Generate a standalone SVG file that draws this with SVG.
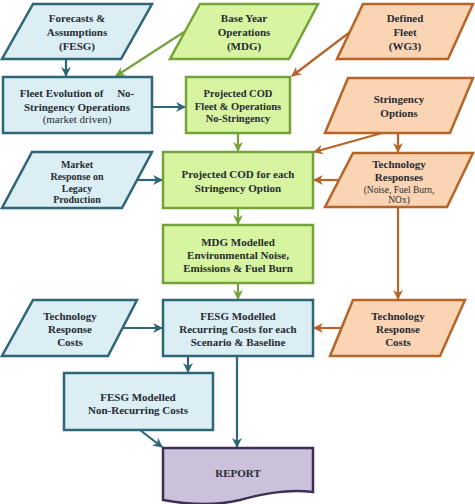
<svg xmlns="http://www.w3.org/2000/svg" width="475" height="504" viewBox="0 0 475 504">
<defs>
<style>
.b{fill:#dbeef4;stroke:#2e6577;stroke-width:2.5}
.g{fill:#d7f5a0;stroke:#76a23a;stroke-width:2.5}
.o{fill:#fbd4b3;stroke:#b5652a;stroke-width:2.5}
.p{fill:#ccc1db;stroke:#3f2f55;stroke-width:2.5}
text{font-family:'Liberation Serif','Times New Roman','DejaVu Serif',serif;font-size:11px;font-weight:bold;fill:#262b33;text-anchor:middle}
.n{font-weight:normal}
.s{font-size:9.5px}
.cb{stroke:#2e6577;stroke-width:2.2;fill:none}
.cg{stroke:#76a23a;stroke-width:2.2;fill:none}
.co{stroke:#b5652a;stroke-width:2.2;fill:none}
</style>
<marker id="ab" viewBox="0 0 10 10" refX="9" refY="5" markerWidth="4.5" markerHeight="4.5" orient="auto" markerUnits="strokeWidth"><path d="M0,0 L10,5 L0,10 L3,5 Z" fill="#2e6577"/></marker>
<marker id="ag" viewBox="0 0 10 10" refX="9" refY="5" markerWidth="4.5" markerHeight="4.5" orient="auto" markerUnits="strokeWidth"><path d="M0,0 L10,5 L0,10 L3,5 Z" fill="#76a23a"/></marker>
<marker id="ao" viewBox="0 0 10 10" refX="9" refY="5" markerWidth="4.5" markerHeight="4.5" orient="auto" markerUnits="strokeWidth"><path d="M0,0 L10,5 L0,10 L3,5 Z" fill="#b5652a"/></marker>
</defs>
<g id="connectors">
<line class="cb" x1="66" y1="59" x2="66" y2="76" marker-end="url(#ab)"/>
<line class="cg" x1="184" y1="32" x2="116" y2="76" marker-end="url(#ag)"/>
<line class="cb" x1="152" y1="107" x2="185" y2="107" marker-end="url(#ab)"/>
<line class="co" x1="350" y1="32" x2="292" y2="76" marker-end="url(#ao)"/>
<line class="cg" x1="238" y1="133" x2="238" y2="151" marker-end="url(#ag)"/>
<line class="co" x1="382" y1="133" x2="314" y2="152" marker-end="url(#ao)"/>
<line class="co" x1="398" y1="133" x2="398" y2="152" marker-end="url(#ao)"/>
<line class="cb" x1="137" y1="180" x2="162" y2="180" marker-end="url(#ab)"/>
<line class="co" x1="338" y1="180" x2="314" y2="180" marker-end="url(#ao)"/>
<line class="cg" x1="238" y1="208" x2="238" y2="224" marker-end="url(#ag)"/>
<line class="cg" x1="238" y1="283" x2="238" y2="299" marker-end="url(#ag)"/>
<line class="co" x1="398" y1="207" x2="398" y2="299" marker-end="url(#ao)"/>
<line class="cb" x1="123" y1="328" x2="162" y2="328" marker-end="url(#ab)"/>
<line class="co" x1="343" y1="328" x2="314" y2="328" marker-end="url(#ao)"/>
<line class="cb" x1="188" y1="356" x2="188" y2="372" marker-end="url(#ab)"/>
<line class="cb" x1="237" y1="356" x2="237" y2="447" marker-end="url(#ab)"/>
<line class="cb" x1="140" y1="430" x2="162" y2="447" marker-end="url(#ab)"/>
</g>
<g id="forecasts"><polygon class="b" points="33,4 152,4 121,59 2,59"/>
<text x="77" y="22">Forecasts &amp;</text><text x="77" y="36">Assumptions</text><text x="77" y="50">(FESG)</text></g>
<g id="baseyear"><polygon class="g" points="200,4 318,4 289,59 170,59"/>
<text x="244" y="22">Base Year</text><text x="244" y="36">Operations</text><text x="244" y="50">(MDG)</text></g>
<g id="definedfleet"><polygon class="o" points="363,4 473,4 448,59 337,59"/>
<text x="405" y="22">Defined</text><text x="405" y="36">Fleet</text><text x="405" y="50">(WG3)</text></g>
<g id="fleetevolution"><rect class="b" x="3" y="77" width="149" height="56"/>
<text x="77" y="97" xml:space="preserve">Fleet Evolution of     No-</text><text x="77" y="111">Stringency Operations</text><text class="n" x="77" y="123">(market driven)</text></g>
<g id="projectedfleet"><rect class="g" x="186" y="77" width="104" height="56"/>
<text x="238" y="97" style="font-size:10.5px">Projected COD</text><text x="238" y="110" style="font-size:10.5px">Fleet &amp; Operations</text><text x="238" y="122" style="font-size:10.5px">No-Stringency</text></g>
<g id="stringency"><polygon class="o" points="348,78 473,78 450,133 325,133"/>
<text x="399" y="103">Stringency</text><text x="399" y="117">Options</text></g>
<g id="marketresponse"><polygon class="b" points="32,152 152,152 122,208 2,208"/>
<text x="77" y="168" style="font-size:10px">Market</text><text x="77" y="180" style="font-size:10px">Response on</text><text x="77" y="192" style="font-size:10px">Legacy</text><text x="77" y="203" style="font-size:10px">Production</text></g>
<g id="projectedeach"><rect class="g" x="163" y="152" width="150" height="56"/>
<text x="238" y="178">Projected COD for each</text><text x="238" y="192">Stringency Option</text></g>
<g id="techresponses"><polygon class="o" points="353,153 473,153 447,207 325,207"/>
<text x="399" y="168">Technology</text><text x="399" y="181">Responses</text><text class="n s" x="399" y="193">(Noise, Fuel Burn,</text><text class="n s" x="399" y="203">NOx)</text></g>
<g id="mdgmodelled"><rect class="g" x="163" y="225" width="150" height="58"/>
<text x="238" y="246">MDG Modelled</text><text x="238" y="259">Environmental Noise,</text><text x="238" y="272">Emissions &amp; Fuel Burn</text></g>
<g id="techcostsleft"><polygon class="b" points="33,300 137,300 108,356 2,356"/>
<text x="70" y="320">Technology</text><text x="70" y="333">Response</text><text x="70" y="346">Costs</text></g>
<g id="fesgrecurring"><rect class="b" x="163" y="300" width="150" height="56"/>
<text x="238" y="320">FESG Modelled</text><text x="238" y="333">Recurring Costs for each</text><text x="238" y="346">Scenario &amp; Baseline</text></g>
<g id="techcostsright"><polygon class="o" points="353,300 465,300 440,356 330,356"/>
<text x="398" y="320">Technology</text><text x="398" y="333">Response</text><text x="398" y="346">Costs</text></g>
<g id="fesgnonrecurring"><rect class="b" x="64" y="373" width="149" height="57"/>
<text x="138" y="401">FESG Modelled</text><text x="138" y="414">Non-Recurring Costs</text></g>
<g id="report"><path class="p" d="M163,448 H313 V492 C285,489 262,494 240,500 C215,506 190,505 163,500 Z"/>
<text x="238" y="477">REPORT</text></g>
</svg>
